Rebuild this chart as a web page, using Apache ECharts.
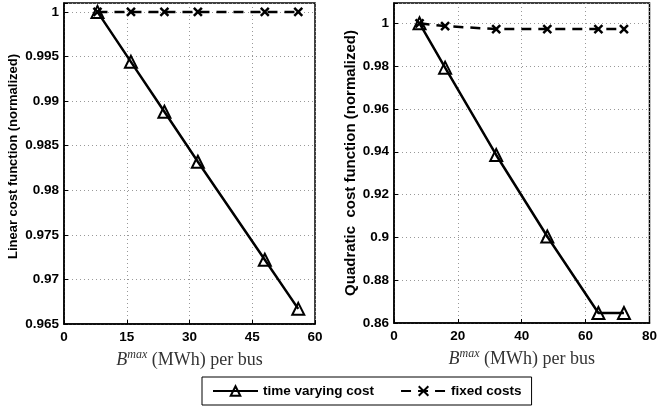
<!DOCTYPE html>
<html>
<head>
<meta charset="utf-8">
<script src="https://cdn.jsdelivr.net/npm/echarts@6/dist/echarts.min.js"></script>
<style>html,body{margin:0;padding:0;background:#fff}#c{width:660px;height:410px}</style>
</head>
<body>
<div id="c"></div>
<script>
// Left panel (linear cost)
const linX = [8, 16, 24, 32, 48, 56];
const linTimeVarying = [1.0, 0.9944, 0.9888, 0.9832, 0.9722, 0.9667];
const linFixedX = [8, 16, 24, 32, 48, 56];
const linFixed = [1.0, 1.0, 1.0, 1.0, 1.0, 1.0];
const linYTicks = ['0.965', '0.97', '0.975', '0.98', '0.985', '0.99', '0.995', '1'];
const linXTicks = ['0', '15', '30', '45', '60'];

// Right panel (quadratic cost)
const quadX = [8, 16, 32, 48, 64, 72];
const quadTimeVarying = [1.0, 0.9793, 0.9385, 0.9004, 0.8647, 0.8647];
const quadFixedX = [8, 16, 32, 48, 64, 72];
const quadFixed = [1.0, 0.9987, 0.9973, 0.9973, 0.9973, 0.9973];
const quadYTicks = ['0.86', '0.88', '0.9', '0.92', '0.94', '0.96', '0.98', '1'];
const quadXTicks = ['0', '20', '40', '60', '80'];

const seriesNames = ['time varying cost', 'fixed costs'];

function fmt(list) {
  return function (v) {
    for (const l of list) { if (Math.abs(parseFloat(l) - v) < 1e-9) return l; }
    return '';
  };
}
function pairs(xs, ys) { return xs.map((x, i) => [x, ys[i]]); }

const SANS = '"Liberation Sans", Arial, sans-serif';
const SERIF = '"Liberation Serif", "Times New Roman", serif';
const crossPath = 'path://M0,0 L10,10 M10,0 L0,10';

const xName = '{i|B}{s|max} {t|(MWh) per bus}';
const xNameStyle = {
  fontFamily: SERIF, fontSize: 18, color: '#333',
  rich: {
    i: { fontFamily: SERIF, fontStyle: 'italic', fontSize: 18, color: '#333' },
    s: { fontFamily: SERIF, fontStyle: 'italic', fontSize: 12, color: '#333', padding: [0, 0, 10, 0] },
    t: { fontFamily: SERIF, fontSize: 18, color: '#333' }
  }
};

function xAxis(idx, max, interval, ticks) {
  return {
    type: 'value', gridIndex: idx, min: 0, max: max, interval: interval,
    name: xName, nameLocation: 'middle', nameGap: 14, nameTextStyle: xNameStyle,
    axisLine: { show: true, onZero: false, lineStyle: { color: '#000', width: 1.5 } },
    axisTick: { show: true, inside: true, length: 4, lineStyle: { color: '#000' } },
    axisLabel: { color: '#000', fontFamily: SANS, fontWeight: 'bold', fontSize: 13.5, margin: 6, formatter: fmt(ticks) },
    splitLine: { show: true, lineStyle: { color: '#999', type: [1, 3], width: 1 } }
  };
}
function yAxis(idx, min, max, interval, ticks, name, gap, fs, shift) {
  return {
    type: 'value', gridIndex: idx, min: min, max: max, interval: interval,
    name: name, nameLocation: 'middle', nameGap: gap,
    nameTextStyle: { color: '#000', fontFamily: SANS, fontWeight: 'bold', fontSize: fs, padding: [0, 0, 0, shift] },
    axisLine: { show: true, onZero: false, lineStyle: { color: '#000', width: 1.5 } },
    axisTick: { show: true, inside: true, length: 4, lineStyle: { color: '#000' } },
    axisLabel: { color: '#000', fontFamily: SANS, fontWeight: 'bold', fontSize: 13.5, margin: 5, formatter: fmt(ticks) },
    splitLine: { show: true, lineStyle: { color: '#999', type: [1, 3], width: 1 } }
  };
}
function tvSeries(idx, data) {
  return {
    name: seriesNames[0], type: 'line', xAxisIndex: idx, yAxisIndex: idx, data: data,
    symbol: 'triangle', symbolSize: 12, z: 3,
    lineStyle: { color: '#000', width: 2.5 },
    itemStyle: { color: 'rgba(255,255,255,0)', borderColor: '#000', borderWidth: 2 }
  };
}
function fxSeries(idx, data) {
  return {
    name: seriesNames[1], type: 'line', xAxisIndex: idx, yAxisIndex: idx, data: data,
    symbol: crossPath, symbolSize: 8, z: 2,
    lineStyle: { color: '#000', width: 2.5, type: [10, 7] },
    itemStyle: { color: '#000', borderColor: '#000', borderWidth: 2.5 }
  };
}

const chart = echarts.init(document.getElementById('c'), null, { renderer: 'canvas' });
chart.setOption({
  animation: false,
  backgroundColor: '#fff',
  grid: [
    { left: 64, top: 3, width: 251, height: 321, show: true, borderColor: '#000', borderWidth: 1.5, backgroundColor: 'transparent' },
    { left: 394, top: 3, width: 262, height: 320, show: true, borderColor: '#000', borderWidth: 1.5, backgroundColor: 'transparent' }
  ],
  xAxis: [xAxis(0, 60, 15, linXTicks), xAxis(1, 80, 20, quadXTicks)],
  yAxis: [
    yAxis(0, 0.965, 1.001, 0.005, linYTicks, 'Linear cost function (normalized)', 44, 13, 14),
    yAxis(1, 0.86, 1.0095, 0.02, quadYTicks, 'Quadratic  cost function (normalized)', 36, 15, 0)
  ],
  legend: {
    left: 202, top: 377,
    data: seriesNames,
    orient: 'horizontal',
    borderColor: '#000', borderWidth: 1, borderRadius: 0,
    padding: [7, 10, 7, 10], itemGap: 26, itemWidth: 45, itemHeight: 12,
    textStyle: { color: '#000', fontFamily: SANS, fontWeight: 'bold', fontSize: 13.5 }
  },
  series: [
    tvSeries(0, pairs(linX, linTimeVarying)),
    fxSeries(0, pairs(linFixedX, linFixed)),
    tvSeries(1, pairs(quadX, quadTimeVarying)),
    fxSeries(1, pairs(quadFixedX, quadFixed))
  ]
});
</script>
</body>
</html>
